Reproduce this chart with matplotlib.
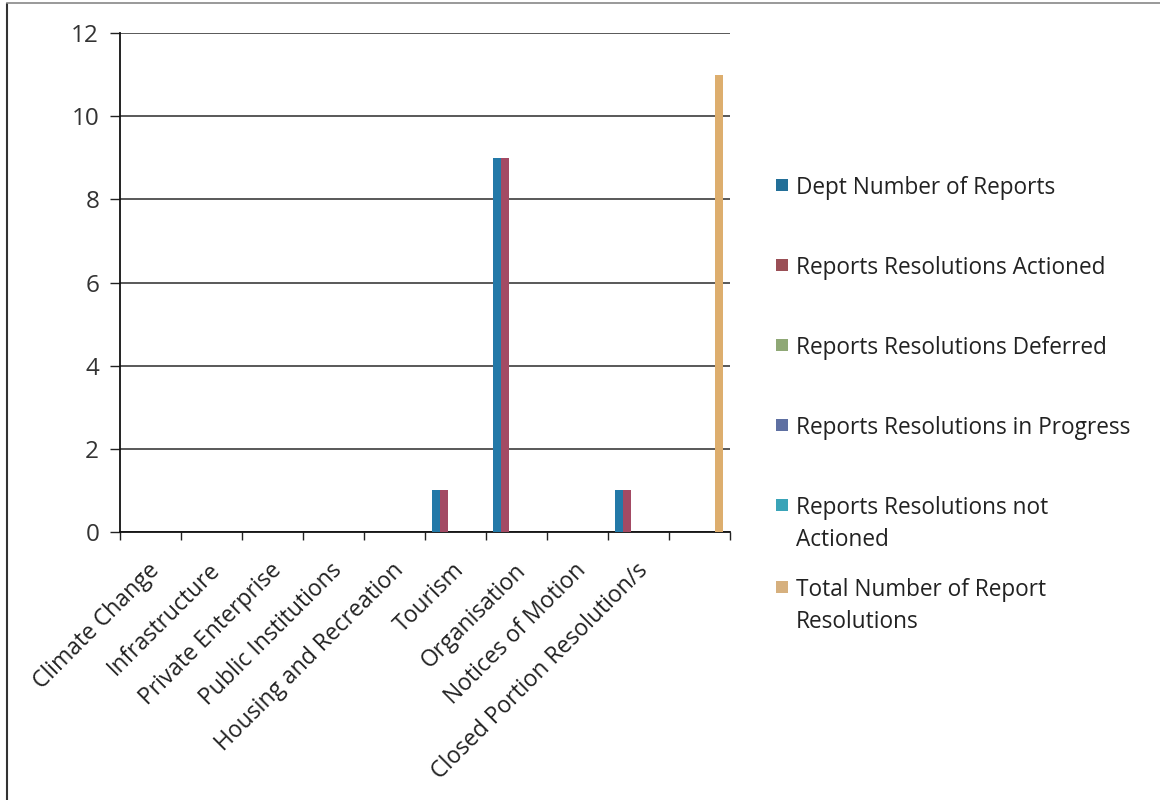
import matplotlib
matplotlib.use("Agg")
import matplotlib.pyplot as plt
import matplotlib.transforms as mtransforms
import numpy as np
from matplotlib.lines import Line2D
from matplotlib.patches import Rectangle

categories = ["Climate Change", "Infrastructure", "Private Enterprise", "Public Institutions",
              "Housing and Recreation", "Tourism", "Organisation", "Notices of Motion",
              "Closed Portion Resolution/s", ""]
series_names = ["Dept Number of Reports", "Reports Resolutions Actioned",
                "Reports Resolutions Deferred", "Reports Resolutions in Progress",
                "Reports Resolutions not\nActioned", "Total Number of Report\nResolutions"]
dept_reports      = [0, 0, 0, 0, 0, 1, 9, 0, 1, 0]
res_actioned      = [0, 0, 0, 0, 0, 1, 9, 0, 1, 0]
res_deferred      = [0, 0, 0, 0, 0, 0, 0, 0, 0, 0]
res_in_progress   = [0, 0, 0, 0, 0, 0, 0, 0, 0, 0]
res_not_actioned  = [0, 0, 0, 0, 0, 0, 0, 0, 0, 0]
total_resolutions = [0, 0, 0, 0, 0, 0, 0, 0, 0, 11]
series = [dept_reports, res_actioned, res_deferred, res_in_progress, res_not_actioned, total_resolutions]
bar_colors = ["#2379a8", "#a34a64", "#8fa876", "#5f70a2", "#3aa4b8", "#ddae6e"]
legend_colors = ["#236f98", "#9a4f56", "#8fa876", "#5f70a2", "#3aa4b8", "#d6b07e"]
yticks = [0, 2, 4, 6, 8, 10, 12]

FONT = "Open Sans"
plt.rcParams["font.family"] = [FONT, "DejaVu Sans"]

fig = plt.figure(figsize=(11.6, 8.0), dpi=100)
W, H = 1160, 800
ax = fig.add_axes([120 / W, 1 - 532 / H, 610 / W, (532 - 33) / H])

n = len(categories)
x = np.arange(n) + 0.5
bw = 0.131
for k, vals in enumerate(series):
    ax.bar(x + (k - 2.5) * bw, vals, width=bw, color=bar_colors[k], zorder=3, linewidth=0)

ax.set_xlim(0, n)
ax.set_ylim(0, 12)
ax.set_yticks(yticks)
ax.set_yticklabels([str(v) for v in yticks], fontsize=17.5, color="#333333")
ax.yaxis.grid(True, color="#3c3c3c", linewidth=1.2, zorder=1)
ax.set_axisbelow(True)
ax.tick_params(axis="y", direction="out", length=7, width=1, color="#222222", pad=8)

ax.set_xticks(np.arange(n + 1), minor=True)
ax.set_xticks(x)
ax.set_xticklabels(categories, rotation=45, ha="right", va="top", rotation_mode="anchor",
                   fontsize=16.5, color="#222222")
ax.tick_params(axis="x", which="major", length=0, pad=19)
ax.tick_params(axis="x", which="minor", direction="out", length=6, width=1, color="#222222")
offset = mtransforms.ScaledTranslation(-3 / 100, 0, fig.dpi_scale_trans)
for lab in ax.get_xticklabels():
    lab.set_transform(lab.get_transform() + offset)

for s in ["top", "right"]:
    ax.spines[s].set_visible(False)
ax.spines["left"].set_color("#111111")
ax.spines["left"].set_linewidth(1.3)
ax.spines["bottom"].set_color("#111111")
ax.spines["bottom"].set_linewidth(1.3)

# legend (manual layout to match reference)
leg_y = [185, 265, 345, 425, 505, 587]
line_gap = 32
for name, col, yy in zip(series_names, legend_colors, leg_y):
    fig.patches.append(Rectangle((776 / W, 1 - (yy + 6) / H), 12 / W, 12 / H,
                                 transform=fig.transFigure, facecolor=col, edgecolor="none"))
    for i, line in enumerate(name.split("\n")):
        fig.text(796 / W, 1 - (yy + i * line_gap) / H, line, fontsize=16.3, color="#222222",
                 va="center_baseline", ha="left")

# outer frame lines
fig.add_artist(Line2D([7 / W, 7 / W], [0, 1 - 4 / H], transform=fig.transFigure,
                      color="#333333", linewidth=1.5))
fig.add_artist(Line2D([7 / W, 1], [1 - 3 / H, 1 - 3 / H], transform=fig.transFigure,
                      color="#888888", linewidth=1.2))

fig.savefig("out.png", dpi=100)
